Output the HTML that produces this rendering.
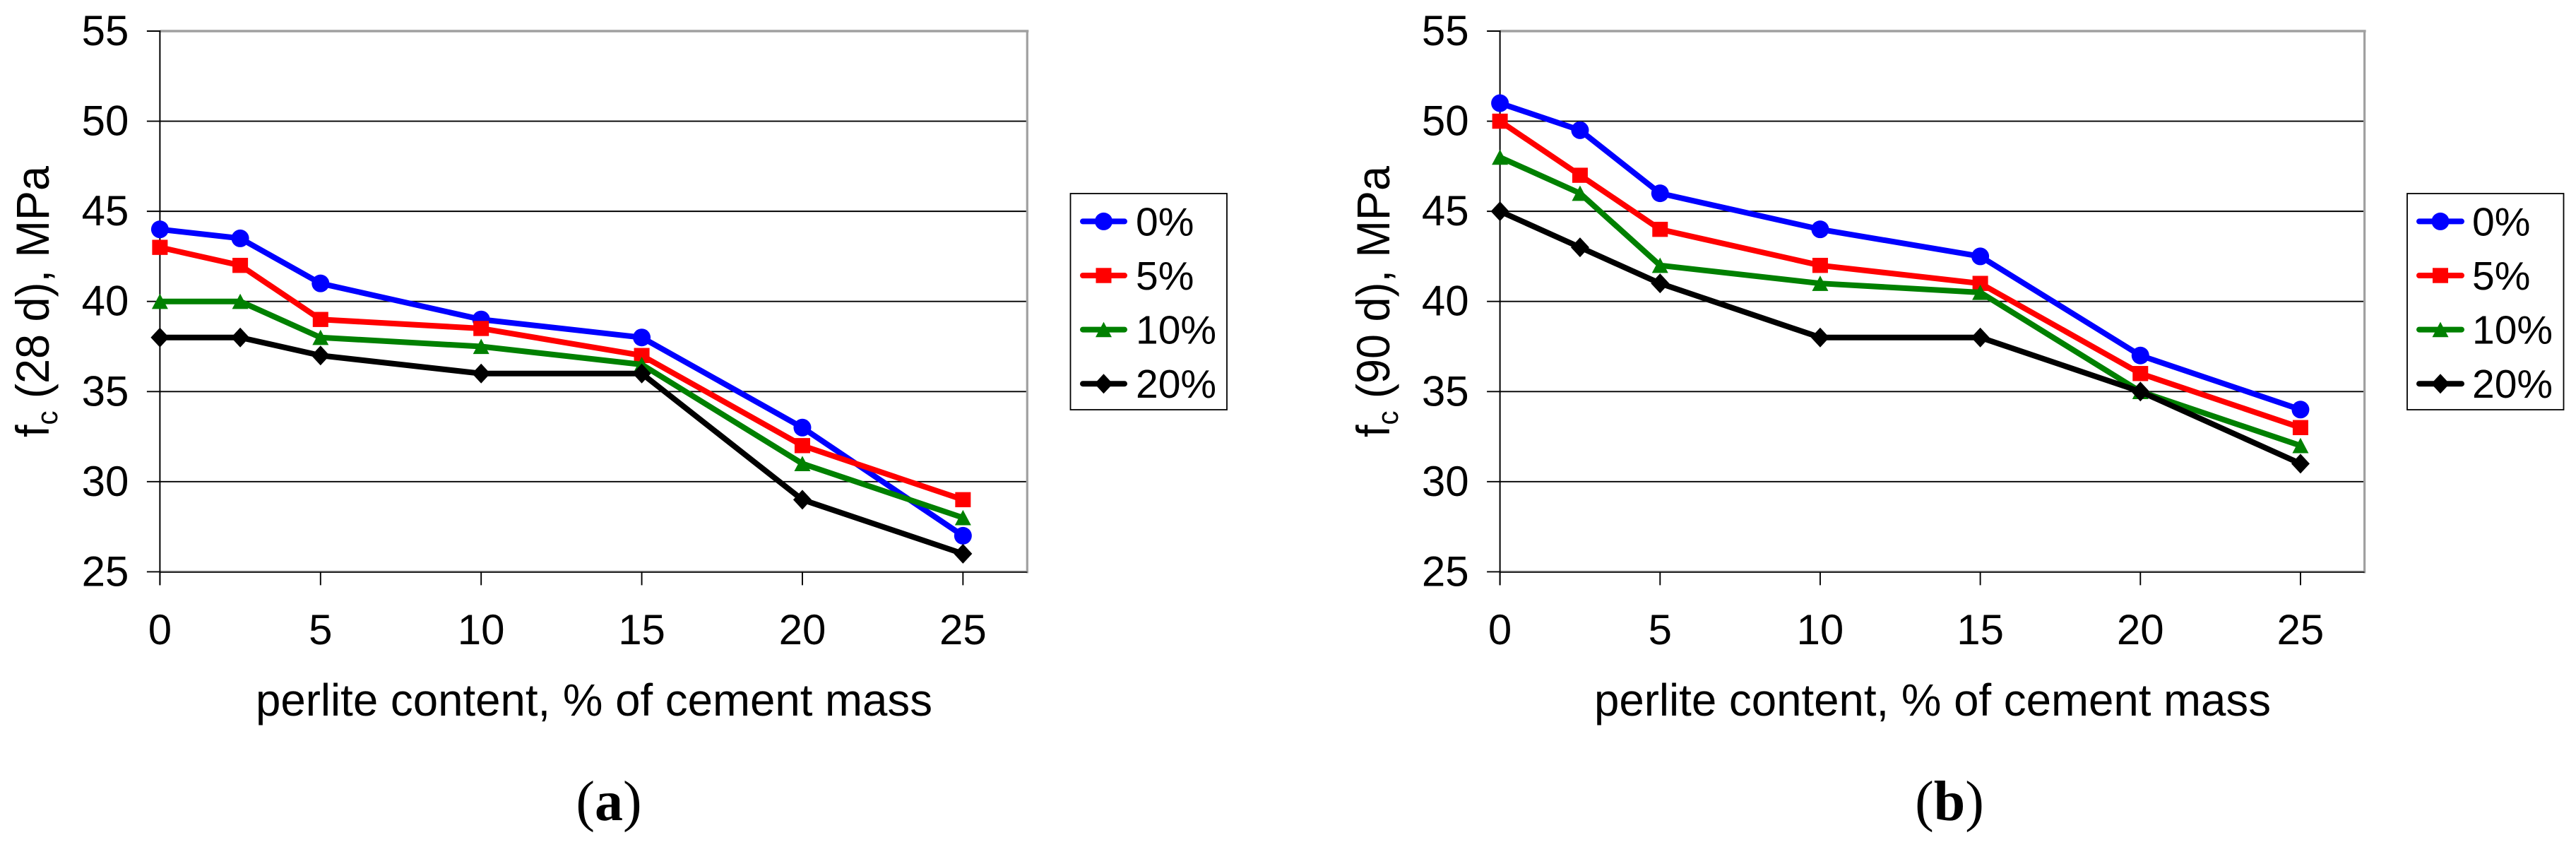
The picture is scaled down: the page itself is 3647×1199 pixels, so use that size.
<!DOCTYPE html>
<html lang="en">
<head>
<meta charset="utf-8">
<title>Compressive strength vs perlite content</title>
<style>
html,body{margin:0;padding:0;background:#fff}
svg{display:block}
text{font-family:"Liberation Sans",sans-serif;fill:#000}
.tick{font-size:60px}
.axis-title{font-size:64px}
.y-title{font-size:66px}
.legend-text{font-size:57px}
.caption{font-family:"Liberation Serif",serif;font-size:80px}
</style>
</head>
<body>
<svg id="figure" xmlns="http://www.w3.org/2000/svg" width="3647" height="1199" viewBox="0 0 3647 1199">
  <rect width="3647" height="1199" fill="#fff"/>
  <g id="chart-a"></g>
  <g id="chart-b"></g>
  <text class="axis-title" x="362" y="1013" textLength="958" lengthAdjust="spacingAndGlyphs">perlite content, % of cement mass</text>
  <text class="axis-title" x="2257" y="1013" textLength="958" lengthAdjust="spacingAndGlyphs">perlite content, % of cement mass</text>
  <text class="y-title" transform="translate(69,619) rotate(-90)" textLength="384" lengthAdjust="spacingAndGlyphs"><tspan>f</tspan><tspan dy="12" font-size="42">c</tspan><tspan dy="-12">&#160;(28 d), MPa</tspan></text>
  <text class="y-title" transform="translate(1967,619) rotate(-90)" textLength="384" lengthAdjust="spacingAndGlyphs"><tspan>f</tspan><tspan dy="12" font-size="42">c</tspan><tspan dy="-12">&#160;(90 d), MPa</tspan></text>
  <text class="caption" x="862" y="1161" text-anchor="middle">(<tspan font-weight="bold">a</tspan>)</text>
  <text class="caption" x="2760" y="1161" text-anchor="middle">(<tspan font-weight="bold">b</tspan>)</text>
</svg>
<script>
const xCategories = [0, 2.5, 5, 10, 15, 20, 25];
const xTickLabels = [0, 5, 10, 15, 20, 25];
const yTickLabels = [25, 30, 35, 40, 45, 50, 55];
const seriesNames = ['0%', '5%', '10%', '20%'];

const chartA0 = [44, 43.5, 41, 39, 38, 33, 27];
const chartA5 = [43, 42, 39, 38.5, 37, 32, 29];
const chartA10 = [40, 40, 38, 37.5, 36.5, 31, 28];
const chartA20 = [38, 38, 37, 36, 36, 29, 26];

const chartB0 = [51, 49.5, 46, 44, 42.5, 37, 34];
const chartB5 = [50, 47, 44, 42, 41, 36, 33];
const chartB10 = [48, 46, 42, 41, 40.5, 35, 32];
const chartB20 = [45, 43, 41, 38, 38, 35, 31];

const SVGNS = 'http://www.w3.org/2000/svg';
const COLORS = ['#0000ff', '#ff0000', '#008000', '#000000'];
const SHAPES = ['circle', 'square', 'triangle', 'diamond'];
const TOP = 44, BOTTOM = 809.4, XMAX = 27, YMIN = 25, YMAX = 55;

function make(parent, tag, attrs) {
  const node = document.createElementNS(SVGNS, tag);
  for (const k in attrs) node.setAttribute(k, attrs[k]);
  parent.appendChild(node);
  return node;
}
function yScale(v) { return BOTTOM - (v - YMIN) / (YMAX - YMIN) * (BOTTOM - TOP); }

function drawMarker(parent, shape, cx, cy, color) {
  let m;
  if (shape === 'circle') {
    m = make(parent, 'ellipse', {cx: cx, cy: cy, rx: 12.5, ry: 12.5, fill: color});
  } else if (shape === 'square') {
    m = make(parent, 'rect', {x: cx - 11, y: cy - 10.7, width: 22, height: 21.4, fill: color});
  } else if (shape === 'triangle') {
    m = make(parent, 'polygon', {points: [cx, cy - 11, cx + 11.5, cy + 10.7, cx - 11.5, cy + 10.7].join(' '), fill: color});
  } else {
    m = make(parent, 'polygon', {points: [cx, cy - 14, cx + 13, cy, cx, cy + 14, cx - 13, cy].join(' '), fill: color});
  }
  
  
}

function drawChart(id, left, right, legend, seriesList) {
  const g = document.getElementById(id);
  const xScale = v => left + v / XMAX * (right - left);

  // grid lines and y ticks
  yTickLabels.forEach(t => {
    const y = yScale(t);
    const line = make(g, 'line', {x1: left - 18.5, x2: right, y1: y, y2: y, stroke: '#000', 'stroke-width': 1.9});
    
    
    const label = make(g, 'text', {x: left - 44, y: y + 20, 'text-anchor': 'end', class: 'tick'});
    label.textContent = t;
    
    
  });

  // plot frame
  const frameTop = make(g, 'line', {x1: left, x2: right + 2, y1: TOP, y2: TOP, stroke: '#a0a0a0', 'stroke-width': 3.4});
  
  
  const frameRight = make(g, 'line', {x1: right, x2: right, y1: TOP, y2: BOTTOM + 2, stroke: '#a0a0a0', 'stroke-width': 3.2});
  
  
  const frameBottom = make(g, 'line', {x1: left, x2: right + 1.6, y1: BOTTOM, y2: BOTTOM, stroke: '#a0a0a0', 'stroke-width': 3.2});
  
  
  const xAxis = make(g, 'line', {x1: left, x2: right, y1: BOTTOM + 0.6, y2: BOTTOM + 0.6, stroke: '#000', 'stroke-width': 1.6});
  
  
  const yAxis = make(g, 'line', {x1: left, x2: left, y1: TOP - 1, y2: BOTTOM + 19, stroke: '#000', 'stroke-width': 2});
  
  

  // x ticks
  xTickLabels.forEach(t => {
    const x = xScale(t);
    const tick = make(g, 'line', {x1: x, x2: x, y1: BOTTOM, y2: BOTTOM + 19, stroke: '#000', 'stroke-width': 1.9});
    
    
    const label = make(g, 'text', {x: x, y: 912, 'text-anchor': 'middle', class: 'tick'});
    label.textContent = t;
    
    
  });

  // series
  seriesList.forEach((values, i) => {
    const sg = make(g, 'g', {});
    
    
    const pts = values.map((v, j) => xScale(xCategories[j]) + ',' + yScale(v)).join(' ');
    const line = make(sg, 'polyline', {points: pts, fill: 'none', stroke: COLORS[i], 'stroke-width': 8, 'stroke-linejoin': 'round'});
    
    
    values.forEach((v, j) => drawMarker(sg, SHAPES[i], xScale(xCategories[j]), yScale(v), COLORS[i]));
  });

  // legend
  const lg = make(g, 'g', {});
  
  
  const box = make(lg, 'rect', {x: legend.x, y: 274, width: legend.w, height: 306, fill: '#fff', stroke: '#000', 'stroke-width': 1.8});
  
  
  seriesNames.forEach((name, i) => {
    const y = 313.4 + i * 76.6;
    const entry = make(lg, 'g', {});
    
    
    const key = make(entry, 'line', {x1: legend.lineX1 + 4, x2: legend.lineX2 - 4, y1: y, y2: y, stroke: COLORS[i], 'stroke-width': 8, 'stroke-linecap': 'round'});
    
    
    drawMarker(entry, SHAPES[i], (legend.lineX1 + legend.lineX2) / 2, y, COLORS[i]);
    const label = make(entry, 'text', {x: legend.textX, y: y + 20, class: 'legend-text'});
    label.textContent = name;
    
    
  });
}

drawChart('chart-a', 226.4, 1454.3, {x: 1515.5, w: 221.5, lineX1: 1529, lineX2: 1596, textX: 1608}, [chartA0, chartA5, chartA10, chartA20]);
drawChart('chart-b', 2123.6, 3347.6, {x: 3408, w: 221.5, lineX1: 3421, lineX2: 3489, textX: 3500}, [chartB0, chartB5, chartB10, chartB20]);
</script>
</body>
</html>
